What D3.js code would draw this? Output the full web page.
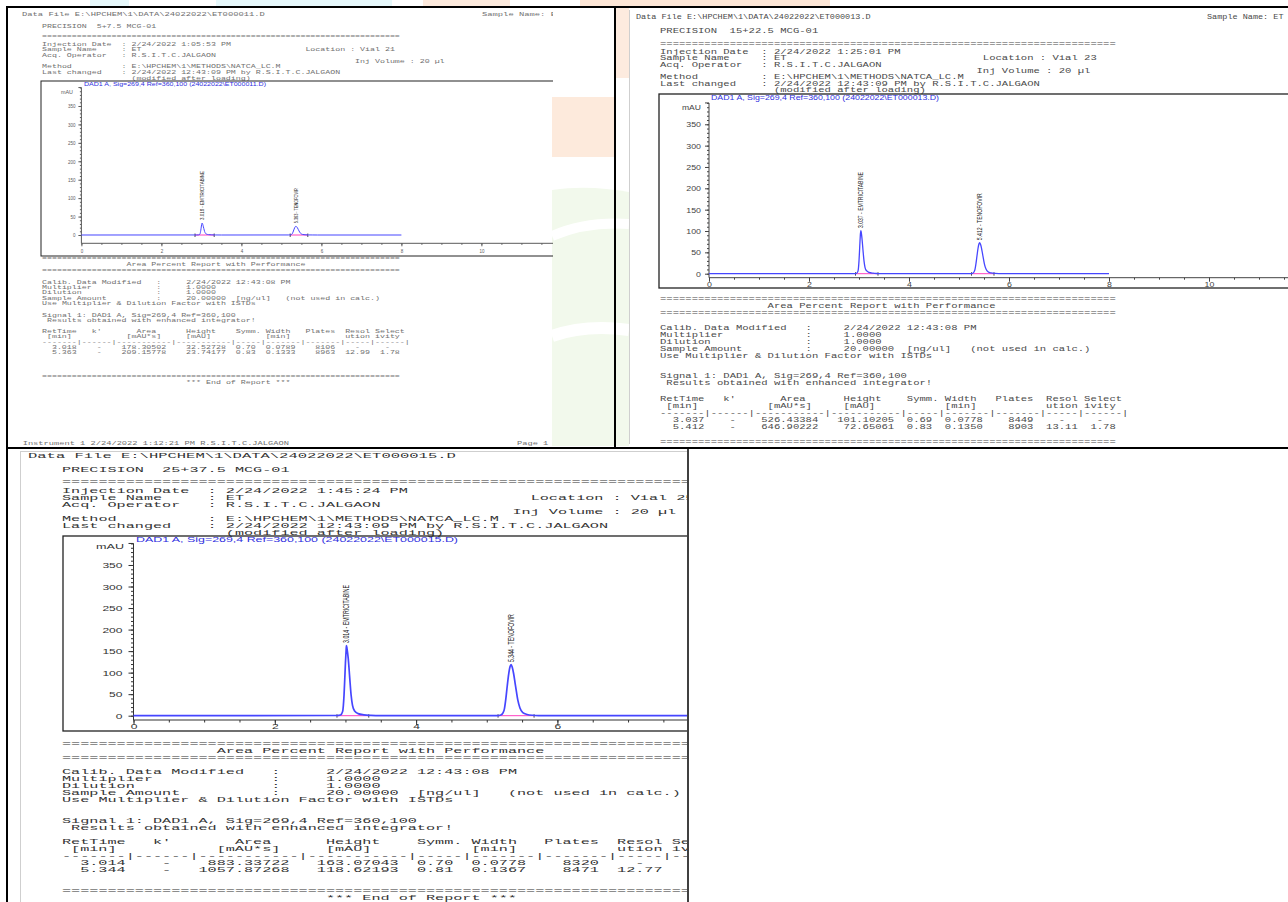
<!DOCTYPE html>
<html>
<head>
<meta charset="utf-8">
<script src="https://cdn.jsdelivr.net/npm/d3@7"></script>
<style>
  body { margin: 0; background: #fff; }
  svg { display: block; }
  text { white-space: pre; }
</style>
</head>
<body>
<svg id="sheet" width="1288" height="902"></svg>
<script>
// ---------------- report data ----------------
const dataPath = "E:\\HPCHEM\\1\\DATA\\24022022\\";
const dataFiles = ["ET000011.D", "ET000013.D", "ET000015.D"];
const reportTitles = ["PRECISION  5+7.5 MCG-01", "PRECISION  15+22.5 MCG-01", "PRECISION  25+37.5 MCG-01"];
const injectionDates = ["2/24/2022 1:05:53 PM", "2/24/2022 1:25:01 PM", "2/24/2022 1:45:24 PM"];
const vials = ["Vial 21", "Vial 23", "Vial 25"];
const sampleName = "ET";
const operator = "R.S.I.T.C.JALGAON";
const injVolume = "20 µl";
const methodPath = "E:\\HPCHEM\\1\\METHODS\\NATCA_LC.M";
const lastChanged = "2/24/2022 12:43:09 PM by R.S.I.T.C.JALGAON";
const calibModified = "2/24/2022 12:43:08 PM";
const signalDesc = "DAD1 A, Sig=269,4 Ref=360,100";
const footerText = "Instrument 1 2/24/2022 1:12:21 PM R.S.I.T.C.JALGAON";

const peakNames = ["EMTRICITABINE", "TENOFOVIR"];
const retTimes = [[3.018, 5.363], [3.037, 5.412], [3.014, 5.344]];
const areas = [["178.30502", "209.15778"], ["526.43384", "646.90222"], ["883.33722", "1057.87268"]];
const heights = [[32.52728, 23.74177], [101.10205, 72.65061], [163.07043, 118.62193]];
const symms = [["0.70", "0.83"], ["0.69", "0.83"], ["0.70", "0.81"]];
const peakWidths = [["0.0789", "0.1333"], ["0.0778", "0.1350"], ["0.0778", "0.1367"]];
const plates = [["8106", "8963"], ["8449", "8903"], ["8320", "8471"]];
const resolutions = [["-", "12.99"], ["-", "13.11"], ["-", "12.77"]];
const selectivities = [["-", "1.78"], ["-", "1.78"], [null, null]];

// integration baselines [start, end] in min
const peakBounds = [
  [[2.84, 3.32], [5.22, 5.66]],
  [[2.93, 3.38], [5.25, 5.70]],
  [[2.88, 3.33], [5.16, 5.67]]
];

// detector traces [min, mAU] (apexes come from retTimes / heights)
const trace1 = [[0, 0], [2.88, 0.1], [2.93, 0.3], [2.96, 1.9], [2.98, 9.7], [2.99, 16.7], [3.00, 24.4], [3.01, 30.6],
  [3.026, 31.2], [3.04, 26.4], [3.06, 17.7], [3.08, 9.7], [3.10, 4.8], [3.13, 2.3], [3.18, 1.0], [3.26, 0.4], [3.36, 0.1], [3.5, 0],
  [5.17, 0.1], [5.22, 0.3], [5.25, 1.3], [5.27, 3.3], [5.29, 7.8], [5.31, 13.7], [5.33, 19.3], [5.35, 22.9],
  [5.38, 22.5], [5.40, 19.6], [5.42, 15.4], [5.44, 11.1], [5.46, 7.2], [5.49, 3.6], [5.53, 1.5], [5.59, 0.6], [5.67, 0.2], [5.77, 0.1], [5.9, 0], [8, 0]];
const trace2 = [[0, 0], [2.90, 0.3], [2.95, 1.0], [2.98, 6], [3.00, 30], [3.01, 52], [3.02, 76], [3.03, 95],
  [3.045, 97], [3.06, 82], [3.08, 55], [3.10, 30], [3.12, 15], [3.15, 7], [3.20, 3], [3.28, 1.2], [3.38, 0.4], [3.5, 0],
  [5.22, 0.2], [5.27, 1], [5.30, 4], [5.32, 10], [5.34, 24], [5.36, 42], [5.38, 59], [5.40, 70],
  [5.43, 69], [5.45, 60], [5.47, 47], [5.49, 34], [5.51, 22], [5.54, 11], [5.58, 4.5], [5.64, 1.8], [5.72, 0.6], [5.82, 0.2], [5.95, 0], [8, 0]];
const trace3 = [[0, 0], [2.88, 0.5], [2.93, 1.6], [2.96, 9.7], [2.98, 48], [2.99, 84], [3.00, 123], [3.01, 153],
  [3.022, 156], [3.04, 132], [3.06, 89], [3.08, 48], [3.10, 24], [3.13, 11], [3.18, 4.8], [3.26, 1.9], [3.36, 0.6], [3.5, 0],
  [5.15, 0.3], [5.20, 1.6], [5.23, 6.5], [5.25, 16], [5.27, 39], [5.29, 69], [5.31, 96], [5.33, 114],
  [5.36, 113], [5.38, 98], [5.40, 77], [5.42, 56], [5.44, 36], [5.47, 18], [5.51, 7.3], [5.57, 2.9], [5.65, 1], [5.75, 0.3], [5.88, 0], [8, 0]];
const traces = [trace1, trace2, trace3];

const yTickValues = [0, 50, 100, 150, 200, 250, 300, 350];
const xTickValues = [0, 2, 4, 6, 8, 10, 12];

// ---------------- page layout ----------------
const MONO = "'Liberation Mono', 'DejaVu Sans Mono', monospace";
const SANS = "'Liberation Sans', Arial, sans-serif";
const SEP = "=".repeat(72);

// table column layout (character columns)
const head1 = [["RetTime", 0], ["k'", 10], ["Area", 19], ["Height", 29], ["Symm.", 39], ["Width", 45], ["Plates", 53], ["Resol", 61], ["Select", 67]];
const head2 = [["[min]", 1], ["[mAU*s]", 17], ["[mAU]", 29], ["[min]", 45], ["ution", 61], ["ivity", 67]];
const dashLine = [7, 6, 11, 11, 5, 7, 7, 5, 6].map(n => "-".repeat(n)).join("|") + "|";
const valueEnd = { ret: 6, area: 24, height: 36, symm: 42, width: 50, plates: 58, resol: 65, select: 71 };
const dashCol = { k: 11, resol: 63, select: 69 };

const layouts = [
  { // top left sheet
    clip: [10, 8, 553, 447], ink: "#707070", axisInk: "#5a5a5a",
    hdrX: 22, hdrY: 14, hdrCw: 5.28, sampleX: 482,
    x0: 42, cw: 4.97, fs: 6, locCol: 53, volCol: 63,
    y: { prec: 26, sep1: 36.5, inj: 44, sample: 49.7, acq: 55.4, injvol: 61, method: 66.7, last: 72.3, modified: 78 },
    frame: [41, 81, 570, 256], xZero: 81.4, pxMin: 40, yZero: 235, pxMau: 0.3686,
    axisY: 243.3, xLabY: 251.5, dad: [84, 84, 182, 5], mau: [73, 92, 12, 5],
    tickFs: 5, tickCw: 2.5, tickPad: 3, tickMaj: 3, tickMin: 1.5,
    peakFs: 5, peakGap: 3, peakLens: [49, 35], traceW: 1,
    r: { sep2: 258, title: 264.3, sep3: 270.7, calib: 282.3, mult: 287.7, dil: 292.7, samp: 298, use: 303, signal: 315, results: 320,
         th1: 331.3, th2: 336.3, dash: 342.3, r1: 347.3, r2: 352.7, sep4: 376.7, end: 382 },
    footer: { x: 22.7, y: 443, cw: 5.22, pageX: 517 }
  },
  { // top right sheet
    clip: [629, 8, 1288, 447], ink: "#4a4a4a", axisInk: "#444",
    hdrX: 636, hdrY: 17, hdrCw: 5.1, sampleX: 1207,
    x0: 660, cw: 6.33, fs: 7, locCol: 51, volCol: 50,
    y: { prec: 31, sep1: 44, inj: 52, sample: 58.3, acq: 64.7, injvol: 71, method: 77.3, last: 83.7, modified: 90 },
    frame: [659, 94, 1300, 288], xZero: 709, pxMin: 50, yZero: 273.7, pxMau: 0.4269,
    axisY: 277.7, xLabY: 284.5, dad: [711, 97.7, 228, 6.5], mau: [701, 107.7, 19, 7],
    tickFs: 7, tickCw: 4.9, tickPad: 4, tickMaj: 4, tickMin: 2,
    peakFs: 7, peakGap: 2.5, peakLens: [56, 47], traceW: 1.3,
    r: { sep2: 299, title: 306, sep3: 313, calib: 327.5, mult: 334.6, dil: 341.8, samp: 348.9, use: 356, signal: 376, results: 383,
         th1: 398.8, th2: 405.9, dash: 413, r1: 420, r2: 427.3, sep4: 441.5, end: null },
    footer: null
  },
  { // bottom sheet
    clip: [20, 451, 687, 902], ink: "#333", axisInk: "#333",
    hdrX: 28, hdrY: 455, hdrCw: 9.3, sampleX: null,
    x0: 62, cw: 9.1, fs: 8, locCol: 51.5, volCol: 49.5,
    y: { prec: 469, sep1: 481, inj: 490, sample: 497.2, acq: 504.3, injvol: 511.5, method: 518.6, last: 525.8, modified: 532.5 },
    frame: [63, 536, 700, 731], xZero: 133.5, pxMin: 70.65, yZero: 715.7, pxMau: 0.4306,
    axisY: 720, xLabY: 726.5, dad: [136, 539.5, 322, 7.5], mau: [124, 546, 28, 8],
    tickFs: 8, tickCw: 6.7, tickPad: 6, tickMaj: 5, tickMin: 2.5,
    peakFs: 9, peakGap: 2.5, peakLens: [58, 48], traceW: 1.7,
    r: { sep2: 743, title: 750, sep3: 757, calib: 771, mult: 778, dil: 785, samp: 792, use: 799, signal: 820, results: 827,
         th1: 841, th2: 848, dash: 855, r1: 862, r2: 869, sep4: 890, end: 897 },
    footer: null
  }
];

const svg = d3.select("#sheet");
svg.append("rect").attr("width", 1288).attr("height", 902).attr("fill", "#fff");

// faint print-through behind the sheets
const wm = svg.append("g");
[["#e6f8fb", 90, 0, 39, 8], ["#e6f8fb", 216, 0, 176, 8], ["#fdeadd", 423, 0, 87, 8], ["#fde6d6", 580, 0, 250, 8],
 ["#fdebdf", 615, 8, 14, 70], ["#fdeadc", 552, 97, 63, 60]].forEach(([c, x, y, w, h]) =>
  wm.append("rect").attr("x", x).attr("y", y).attr("width", w).attr("height", h).attr("fill", c));
wm.append("path").attr("d", "M552,190 C580,186 605,188 629,192 L629,446 L552,446 Z").attr("fill", "#f2f9ec");
wm.append("path").attr("d", "M552,236 C575,226 600,222 629,224").attr("stroke", "#fff").attr("stroke-width", 10).attr("fill", "none");
wm.append("path").attr("d", "M552,336 C575,328 600,326 629,330").attr("stroke", "#fff").attr("stroke-width", 12).attr("fill", "none");

// text helper: monospaced print stretched to a fixed character pitch
function put(g, x, y, s, o) {
  const t = g.append("text").attr("x", x).attr("y", y)
    .attr("font-family", o.family || MONO).attr("font-size", o.fs)
    .attr("fill", o.fill).attr("dominant-baseline", "central").text(s);
  const len = o.len != null ? o.len : s.length * o.cw;
  t.attr("textLength", len).attr("lengthAdjust", "spacingAndGlyphs");
  if (o.anchor) t.attr("text-anchor", o.anchor);
  return t;
}

function drawChart(g, i, L) {
  const [fx1, fy1, fx2, fy2] = L.frame;
  const x = d3.scaleLinear().domain([0, 12]).range([L.xZero, L.xZero + 12 * L.pxMin]);
  const y = d3.scaleLinear().domain([0, 400]).range([L.yZero, L.yZero - 400 * L.pxMau]);
  const cg = g.append("g");

  cg.append("rect").attr("x", fx1).attr("y", fy1).attr("width", fx2 - fx1).attr("height", fy2 - fy1)
    .attr("fill", "none").attr("stroke", "#222").attr("stroke-width", i === 0 ? 1 : 1.3);

  // signal caption
  put(cg, L.dad[0], L.dad[1], `${signalDesc} (24022022\\${dataFiles[i]})`,
      { family: SANS, fs: L.dad[3], fill: "#3030e0", len: L.dad[2] });
  put(cg, L.mau[0], L.mau[1], "mAU", { family: SANS, fs: L.mau[3], fill: L.axisInk, len: L.mau[2], anchor: "end" });

  // y axis
  cg.append("line").attr("x1", x(0)).attr("x2", x(0)).attr("y1", L.axisY).attr("y2", y(400))
    .attr("stroke", L.axisInk).attr("stroke-width", 1);
  const yMinor = cg.append("g").attr("transform", `translate(${x(0)},0)`)
    .call(d3.axisLeft(y).tickValues(d3.range(0, 401, 10)).tickSize(L.tickMin).tickFormat(""));
  yMinor.select(".domain").remove();
  yMinor.selectAll("line").attr("stroke", L.axisInk);
  const yMajor = cg.append("g").attr("transform", `translate(${x(0)},0)`)
    .call(d3.axisLeft(y).tickValues(yTickValues).tickSize(L.tickMaj).tickPadding(L.tickPad));
  yMajor.attr("font-family", SANS).attr("font-size", L.tickFs);
  yMajor.select(".domain").remove();
  yMajor.selectAll("line").attr("stroke", L.axisInk);
  yMajor.selectAll("text").attr("fill", L.axisInk).attr("dy", "0.35em")
    .attr("textLength", d => String(d).length * L.tickCw).attr("lengthAdjust", "spacingAndGlyphs");
  cg.append("line").attr("x1", x(0) - L.tickMaj).attr("x2", x(0)).attr("y1", y(400)).attr("y2", y(400)).attr("stroke", L.axisInk);

  // x axis (labels only where they fit on the sheet)
  const shown = xTickValues.filter(v => x(v) + 2 * L.tickCw < L.clip[2]);
  cg.append("line").attr("x1", x(0)).attr("x2", fx2).attr("y1", L.axisY).attr("y2", L.axisY)
    .attr("stroke", L.axisInk).attr("stroke-width", 1);
  const xMinor = cg.append("g").attr("transform", `translate(0,${L.axisY})`)
    .call(d3.axisBottom(x).tickValues(d3.range(0, 12.01, 0.5)).tickSize(L.tickMin).tickFormat(""));
  xMinor.select(".domain").remove();
  xMinor.selectAll("line").attr("stroke", L.axisInk);
  const xMajor = cg.append("g").attr("transform", `translate(0,${L.axisY})`)
    .call(d3.axisBottom(x).tickValues(shown).tickSize(L.tickMaj));
  xMajor.attr("font-family", SANS).attr("font-size", L.tickFs);
  xMajor.select(".domain").remove();
  xMajor.selectAll("line").attr("stroke", L.axisInk);
  xMajor.selectAll("text").attr("fill", L.axisInk).attr("y", L.xLabY - L.axisY).attr("dy", "0.35em")
    .attr("textLength", d => String(d).length * L.tickCw).attr("lengthAdjust", "spacingAndGlyphs");

  // plot area clip
  const pid = "plot" + i;
  svg.append("clipPath").attr("id", pid).append("rect")
    .attr("x", fx1 + 1).attr("y", fy1 + 1).attr("width", fx2 - fx1 - 2).attr("height", fy2 - fy1 - 2);
  const pg = cg.append("g").attr("clip-path", `url(#${pid})`);

  // integration baselines and event marks
  peakBounds[i].forEach(([a, b]) => {
    pg.append("line").attr("x1", x(a)).attr("x2", x(b)).attr("y1", y(0)).attr("y2", y(0))
      .attr("stroke", "#ff3fc0").attr("stroke-width", 1);
    [a, b].forEach(t => pg.append("line").attr("x1", x(t)).attr("x2", x(t))
      .attr("y1", y(0) - 1.5).attr("y2", y(0) + 2).attr("stroke", "#222").attr("stroke-width", 0.8));
  });

  // detector trace with the reported apexes
  const pts = traces[i].concat(retTimes[i].map((t, k) => [t, heights[i][k]])).sort((a, b) => a[0] - b[0]);
  pg.append("path").datum(pts)
    .attr("d", d3.line().x(d => x(d[0])).y(d => y(d[1])).curve(d3.curveMonotoneX))
    .attr("fill", "none").attr("stroke", "#4646ff").attr("stroke-width", L.traceW).attr("stroke-linejoin", "round");

  // peak annotations
  retTimes[i].forEach((t, k) => {
    pg.append("text")
      .attr("transform", `translate(${x(t)},${y(heights[i][k]) - L.peakGap}) rotate(-90)`)
      .attr("font-family", SANS).attr("font-size", L.peakFs).attr("fill", "#222")
      .attr("dominant-baseline", "central")
      .attr("textLength", L.peakLens[k]).attr("lengthAdjust", "spacingAndGlyphs")
      .text(`${t.toFixed(3)} - ${peakNames[k]}`);
  });
}

function drawSheet(i, L) {
  const cid = "sheet" + i;
  svg.append("clipPath").attr("id", cid).append("rect")
    .attr("x", L.clip[0]).attr("y", L.clip[1]).attr("width", L.clip[2] - L.clip[0]).attr("height", L.clip[3] - L.clip[1]);
  const g = svg.append("g").attr("clip-path", `url(#${cid})`);
  const mono = { fs: L.fs, cw: L.cw, fill: L.ink };
  const at = (col, y, s) => put(g, L.x0 + col * L.cw, y, s, mono);
  const atEnd = (col, y, s) => put(g, L.x0 + (col + 1) * L.cw, y, s, { ...mono, anchor: "end" });

  put(g, L.hdrX, L.hdrY, "Data File " + dataPath + dataFiles[i], { fs: L.fs, cw: L.hdrCw, fill: L.ink });
  if (L.sampleX != null) put(g, L.sampleX, L.hdrY, "Sample Name: " + sampleName, { fs: L.fs, cw: L.hdrCw, fill: L.ink });

  at(0, L.y.prec, reportTitles[i]);
  at(0, L.y.sep1, SEP);
  at(0, L.y.inj, "Injection Date  : " + injectionDates[i]);
  at(0, L.y.sample, "Sample Name     : " + sampleName);
  at(L.locCol, L.y.sample, "Location : " + vials[i]);
  at(0, L.y.acq, "Acq. Operator   : " + operator);
  at(L.volCol, L.y.injvol, "Inj Volume : " + injVolume);
  at(0, L.y.method, "Method          : " + methodPath);
  at(0, L.y.last, "Last changed    : " + lastChanged);
  at(18, L.y.modified, "(modified after loading)");

  drawChart(g, i, L);

  const R = L.r;
  at(0, R.sep2, SEP);
  at(17, R.title, "Area Percent Report with Performance");
  at(0, R.sep3, SEP);
  at(0, R.calib, "Calib. Data Modified   :     " + calibModified);
  at(0, R.mult, "Multiplier             :     1.0000");
  at(0, R.dil, "Dilution               :     1.0000");
  at(0, R.samp, "Sample Amount          :     20.00000  [ng/ul]   (not used in calc.)");
  at(0, R.use, "Use Multiplier & Dilution Factor with ISTDs");
  at(0, R.signal, "Signal 1: " + signalDesc);
  at(1, R.results, "Results obtained with enhanced integrator!");
  head1.forEach(([s, c]) => at(c, R.th1, s));
  head2.forEach(([s, c]) => at(c, R.th2, s));
  at(0, R.dash, dashLine);
  [R.r1, R.r2].forEach((ry, k) => {
    atEnd(valueEnd.ret, ry, retTimes[i][k].toFixed(3));
    at(dashCol.k, ry, "-");
    atEnd(valueEnd.area, ry, areas[i][k]);
    atEnd(valueEnd.height, ry, heights[i][k].toFixed(5));
    atEnd(valueEnd.symm, ry, symms[i][k]);
    atEnd(valueEnd.width, ry, peakWidths[i][k]);
    atEnd(valueEnd.plates, ry, plates[i][k]);
    const rs = resolutions[i][k];
    if (rs === "-") at(dashCol.resol, ry, rs); else atEnd(valueEnd.resol, ry, rs);
    const sl = selectivities[i][k];
    if (sl === "-") at(dashCol.select, ry, sl); else if (sl) atEnd(valueEnd.select, ry, sl);
  });
  at(0, R.sep4, SEP);
  if (R.end != null) at(29, R.end, "*** End of Report ***");

  if (L.footer) {
    put(g, L.footer.x, L.footer.y, footerText, { fs: L.fs, cw: L.footer.cw, fill: L.ink });
    put(g, L.footer.pageX, L.footer.y, "Page 1 of 1", { fs: L.fs, cw: L.footer.cw, fill: L.ink });
  }
}

layouts.forEach((L, i) => drawSheet(i, L));

// sheet edges
const edges = svg.append("g").attr("stroke", "#cfcfcf").attr("stroke-width", 1);
edges.append("line").attr("x1", 629.5).attr("x2", 629.5).attr("y1", 10).attr("y2", 444);
edges.append("line").attr("x1", 20.5).attr("x2", 20.5).attr("y1", 451).attr("y2", 902);
edges.append("line").attr("x1", 20).attr("x2", 687).attr("y1", 451.5).attr("y2", 451.5);

// collage borders
const borders = svg.append("g").attr("stroke", "#000").attr("stroke-width", 2);
borders.append("line").attr("x1", 6).attr("x2", 1288).attr("y1", 7).attr("y2", 7);
borders.append("line").attr("x1", 7).attr("x2", 7).attr("y1", 6).attr("y2", 902);
borders.append("line").attr("x1", 615).attr("x2", 615).attr("y1", 6).attr("y2", 448);
borders.append("line").attr("x1", 6).attr("x2", 1288).attr("y1", 448).attr("y2", 448);
borders.append("line").attr("x1", 688).attr("x2", 688).attr("y1", 448).attr("y2", 902).attr("stroke-width", 1.5);
</script>
</body>
</html>
